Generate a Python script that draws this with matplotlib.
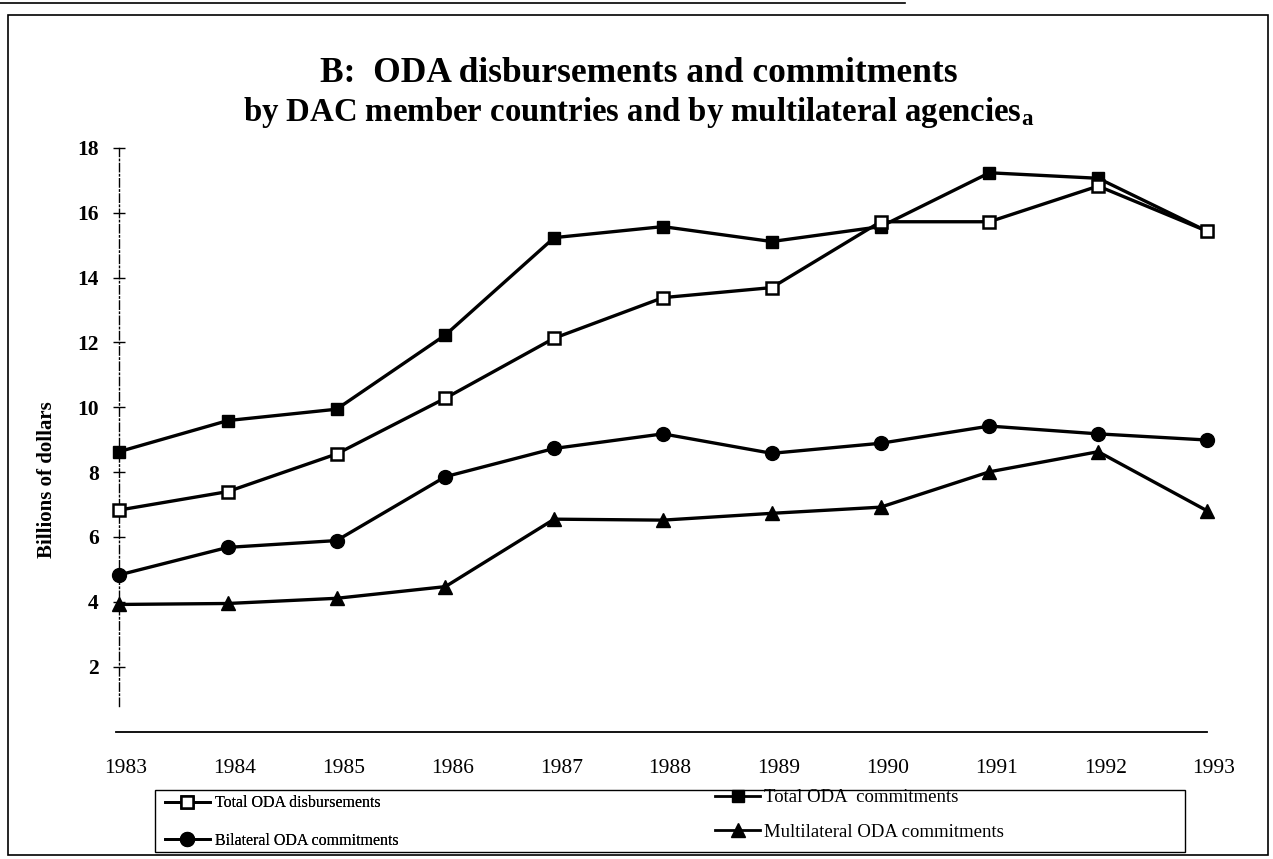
import matplotlib
matplotlib.use("Agg")
import matplotlib.pyplot as plt
from matplotlib.lines import Line2D
from matplotlib.patches import Rectangle
from matplotlib.transforms import ScaledTranslation

plt.rcParams['font.family'] = ['Liberation Serif', 'DejaVu Serif']
plt.rcParams['mathtext.fontset'] = 'custom'
plt.rcParams['mathtext.rm'] = 'Liberation Serif'
plt.rcParams['mathtext.it'] = 'Liberation Serif:italic'

years = [1983, 1984, 1985, 1986, 1987, 1988, 1989, 1990, 1991, 1992, 1993]
total_disbursements = [6.83, 7.40, 8.56, 10.28, 12.13, 13.38, 13.69, 15.72, 15.72, 16.82, 15.43]
total_commitments = [8.63, 9.59, 9.94, 12.23, 15.23, 15.57, 15.11, 15.57, 17.23, 17.06, 15.43]
bilateral_commitments = [4.83, 5.68, 5.89, 7.86, 8.73, 9.18, 8.58, 8.89, 9.42, 9.18, 8.99]
multilateral_commitments = [3.92, 3.95, 4.11, 4.47, 6.55, 6.52, 6.73, 6.92, 8.01, 8.63, 6.81]
y_ticks = [2, 4, 6, 8, 10, 12, 14, 16, 18]
labels_left = ["Total ODA disbursements", "Bilateral ODA commitments"]
labels_right = ["Total ODA  commitments", "Multilateral ODA commitments"]

W, H = 1273, 859
fig = plt.figure(figsize=(W / 100, H / 100), dpi=100)
fig.patch.set_facecolor('white')

def fx(px):
    return px / W

def fy(py):
    return 1 - py / H

ax = fig.add_axes([fx(119), fy(731.6), fx(1207) - fx(119), fy(147.8) - fy(731.6)])
ax.set_xlim(1983, 1993)
ax.set_ylim(0, 18)

lw = 2.4
ax.plot(years, total_disbursements, color='black', lw=lw, marker='s', ms=8,
        mfc='white', mec='black', mew=1.8, clip_on=False, zorder=5)
ax.plot(years, total_commitments, color='black', lw=lw, marker='s', ms=9,
        mfc='black', mec='black', clip_on=False, zorder=4)
ax.plot(years, bilateral_commitments, color='black', lw=lw, marker='o', ms=10,
        mfc='black', mec='black', clip_on=False, zorder=4)
ax.plot(years, multilateral_commitments, color='black', lw=lw, marker='^', ms=10,
        mfc='black', mec='black', clip_on=False, zorder=4)

for s in ['top', 'right']:
    ax.spines[s].set_visible(False)
ax.spines['left'].set_linestyle((0, (6, 2, 1, 2)))
ax.spines['left'].set_linewidth(1.0)
ax.spines['left'].set_bounds(0.8, 18)
ax.spines['bottom'].set_linewidth(1.3)
ax.spines['bottom'].set_bounds(1982.97, 1993)

ax.set_yticks(y_ticks)
ax.set_yticklabels([str(v) for v in y_ticks], fontsize=15.5, fontweight='bold')
ax.tick_params(axis='y', direction='inout', length=9, width=1.0, pad=10)
ax.set_xticks(years)
ax.set_xticklabels([str(y) for y in years], fontsize=15.5)
ax.tick_params(axis='x', length=0, pad=20)
shift = ScaledTranslation(7 / 100, 0, fig.dpi_scale_trans)
for t in ax.get_xticklabels():
    t.set_transform(t.get_transform() + shift)

fig.text(fx(47), fy(480), "Billions of dollars", rotation=90, fontsize=15,
         fontweight='bold', ha='center', va='center')

fig.text(fx(639), fy(73), "B:  ODA disbursements and commitments",
         fontsize=25.5, fontweight='bold', ha='center', va='center')
fig.text(fx(639), fy(113), r"by DAC member countries and by multilateral agencies$_{\mathregular{a}}$",
         fontsize=23.6, fontweight='bold', ha='center', va='center')

h_open = Line2D([], [], color='black', lw=2, marker='s', ms=8, mfc='white', mec='black', mew=1.8)
h_circ = Line2D([], [], color='black', lw=2, marker='o', ms=10, mfc='black')
h_sq = Line2D([], [], color='black', lw=2, marker='s', ms=9, mfc='black')
h_tri = Line2D([], [], color='black', lw=2, marker='^', ms=10, mfc='black')

leg1 = fig.legend([h_open, h_circ], labels_left, loc='center left',
                  bbox_to_anchor=(fx(165), fy(822)), fontsize=11.5, frameon=False,
                  handlelength=2.8, handletextpad=0.3, labelspacing=1.36,
                  borderaxespad=0, borderpad=0)
leg2 = fig.legend([h_sq, h_tri], labels_right, loc='center left',
                  bbox_to_anchor=(fx(715), fy(815)), fontsize=13.5, frameon=False,
                  handlelength=2.4, handletextpad=0.2, labelspacing=0.92,
                  borderaxespad=0, borderpad=0)
fig.add_artist(leg1)

fig.add_artist(Rectangle((fx(155), fy(852)), fx(1185) - fx(155), fy(790) - fy(852),
                         transform=fig.transFigure, fill=False, edgecolor='black', lw=1.0))

# outer frame
fig.add_artist(Rectangle((fx(8), fy(855)), fx(1268) - fx(8), fy(15) - fy(855),
                         transform=fig.transFigure, fill=False, edgecolor='black', lw=1.2))
fig.add_artist(Line2D([0, fx(905)], [fy(3), fy(3)], transform=fig.transFigure,
                      color='black', lw=1.2))

fig.savefig("out.png", dpi=100)
